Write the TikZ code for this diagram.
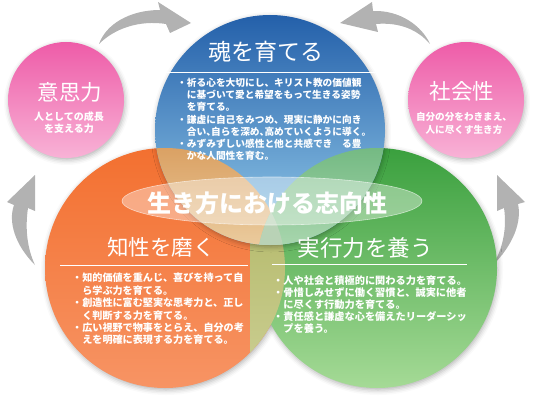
\documentclass[tikz,border=0pt]{standalone}
\usepackage{fontspec}
\newfontfamily\jp{Noto Sans CJK JP}
\usetikzlibrary{shadows.blur}
\definecolor{bluetop}{RGB}{36,96,170}
\definecolor{bluemid}{RGB}{72,142,202}
\definecolor{bluebot}{RGB}{150,205,235}
\definecolor{orgtop}{RGB}{243,112,48}
\definecolor{orgbot}{RGB}{247,148,100}
\definecolor{grntop}{RGB}{58,160,62}
\definecolor{grnbot}{RGB}{165,218,150}
\definecolor{pnktop}{RGB}{238,92,168}
\definecolor{pnkbot}{RGB}{248,178,214}
\definecolor{tantop}{RGB}{218,160,98}
\definecolor{tanbot}{RGB}{235,205,160}
\definecolor{bgtop}{RGB}{115,185,130}
\definecolor{bgbot}{RGB}{170,215,175}
\definecolor{olvtop}{RGB}{172,178,92}
\definecolor{olvbot}{RGB}{205,208,150}
\definecolor{triple}{RGB}{185,210,182}
\definecolor{arrowgray}{RGB}{178,178,178}
\begin{document}
\begin{tikzpicture}[x=1pt,y=-1pt,
  shadowed/.style={blur shadow={shadow xshift=1pt,shadow yshift=-2pt,shadow blur radius=5pt,shadow opacity=30}},
  ttl/.style={text=white,inner sep=0pt,font=\jp\fontsize{#1}{#1}\selectfont},
  bodytext/.style={text=white,inner sep=0pt,align=left,anchor=north west},
  subtext/.style={text=white,inner sep=0pt,align=center},
  garrow/.style={fill=arrowgray},
  hline/.style={draw=white,line width=0.9pt}]
\useasboundingbox (0,0) rectangle (540,404);

% arrows
\path[garrow] (99,44) .. controls (106,24) and (130,10) .. (160,10) -- (158,2) -- (191,23) -- (170,33) -- (166,24) .. controls (140,20) and (115,28) .. (99,44) -- cycle;
\path[garrow] (430,44) .. controls (422,26) and (400,10) .. (373,11) -- (372,2) -- (340,23) -- (378,32) -- (376,24) .. controls (400,22) and (418,30) .. (430,44) -- cycle;
\path[garrow] (35,265) .. controls (15,245) and (8,222) .. (14,205) -- (7,202) -- (35,175) -- (35,211) -- (28,208) .. controls (25,228) and (27,248) .. (35,265) -- cycle;
\path[garrow] (493,265) .. controls (513,245) and (522,222) .. (518,204) -- (525,202) -- (497,175) -- (497,211) -- (504,208) .. controls (507,228) and (503,248) .. (493,265) -- cycle;

% pink circles
\path[shadowed, top color=pnktop, bottom color=pnkbot] (66,100) circle[radius=58pt];
\path[shadowed, top color=pnktop, bottom color=pnkbot] (466,100) circle[radius=58pt];

% main circles
\path[shadowed, top color=orgtop, bottom color=orgbot] (165,268) circle[radius=120pt];
\path[shadowed, top color=grntop, bottom color=grnbot] (377,268) circle[radius=120pt];
\begin{scope}
  \clip (165,268) circle[radius=120pt];
  \shade[top color=olvtop, bottom color=olvbot] (250,145) rectangle (300,392);
\end{scope}
\path[shadowed, top color=bluetop, middle color=bluemid, bottom color=bluebot] (270,130) circle[radius=115pt];
\begin{scope}
  \clip (270,130) circle[radius=115pt];
  \begin{scope}
    \clip (165,268) circle[radius=120pt];
    \shade[top color=tantop, bottom color=tanbot] (40,145) rectangle (290,250);
  \end{scope}
  \begin{scope}
    \clip (377,268) circle[radius=120pt];
    \shade[top color=bgtop, bottom color=bgbot] (250,145) rectangle (500,250);
  \end{scope}
  \clip (165,268) circle[radius=120pt];
  \clip (377,268) circle[radius=120pt];
  \fill[triple] (250,145) rectangle (300,250);
\end{scope}

% central ellipse
\path[fill=white, fill opacity=0.38, draw=white, draw opacity=0.6, line width=0.6pt] (272,201) ellipse[x radius=150pt, y radius=24pt];

% title rules
\draw[hline] (165,72) -- (385,72);
\draw[hline] (60,265) -- (248,265);
\draw[hline] (272,264) -- (467,264);

% titles
\node[ttl=23] (tB) at (266,52) {魂を育てる};
\node[ttl=21.5] (tO) at (161,247) {知性を磨く};
\node[ttl=22.5] (tG) at (365,248) {実行力を養う};
\node[ttl=21.5] (tL) at (70,92) {意思力};
\node[ttl=21.5] (tR) at (462,91) {社会性};
\node[text=white, inner sep=0pt, font=\jp\bfseries\fontsize{24}{24}\selectfont] (main) at (267,203) {生き方における志向性};

% pink subtexts
\node[subtext, font=\jp\bfseries\fontsize{10}{11.5}\selectfont] (sL) at (69,122.5) {人としての成長\\を支える力};
\node[subtext, font=\jp\bfseries\fontsize{9.6}{12.5}\selectfont] (sR) at (464,123.5) {自分の分をわきまえ、\\人に尽くす生き方};

% bullet texts
\node[bodytext, font=\jp\bfseries\fontsize{9.7}{12.2}\selectfont] (bB) at (177,78) {・祈る心を大切にし、キリスト教の価値観\\
\hphantom{・}に基づいて愛と希望をもって生きる姿勢\\
\hphantom{・}を育てる。\\
・謙虚に自己をみつめ、現実に静かに向き\\
\hphantom{・}{\addfontfeature{RawFeature=+halt}合い、自らを深め、高めていくように導く。}\\
・みずみずしい感性と他と共感でき　る豊\\
\hphantom{・}かな人間性を育む。};

\node[bodytext, font=\jp\bfseries\fontsize{10.1}{12.4}\selectfont] (bO) at (72,273) {・知的価値を重んじ、喜びを持って自\\
\hphantom{・}ら学ぶ力を育てる。\\
・創造性に富む堅実な思考力と、正し\\
\hphantom{・}く判断する力を育てる。\\
・広い視野で物事をとらえ、自分の考\\
\hphantom{・}えを明確に表現する力を育てる。};

\node[bodytext, font=\jp\bfseries\fontsize{10.2}{11.8}\selectfont] (bG) at (273,276) {・人や社会と積極的に関わる力を育てる。\\
・骨惜しみせずに働く習慣と、誠実に他者\\
\hphantom{・}に尽くす行動力を育てる。\\
・責任感と謙虚な心を備えたリーダーシッ\\
\hphantom{・}プを養う。};
\end{tikzpicture}
\end{document}
